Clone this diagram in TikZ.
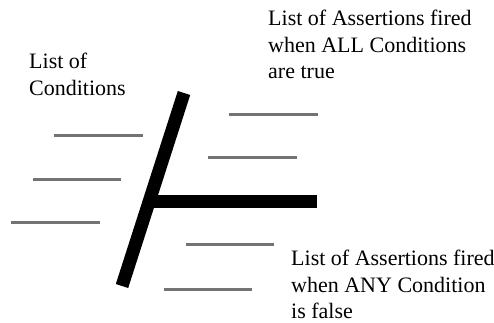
\documentclass[tikz,border=0pt]{standalone}
\usepackage{fontspec}
\setmainfont{Liberation Serif}
\usetikzlibrary{positioning}

\begin{document}
\begin{tikzpicture}[
  x=1pt, y=-1pt,
  bar/.style={line width=13pt, black},
  slot/.style={line width=3pt, gray!90!black},
  label/.style={anchor=north west, inner sep=0pt, align=left,
    font=\fontsize{22}{26.5}\selectfont}
]
\useasboundingbox (0,0) rectangle (494,322);

\coordinate (top) at (184,93);
\coordinate (bot) at (122,286);
\coordinate (fork) at (149,201);
\coordinate (tip) at (317,201);

\draw[bar] (top) -- (bot);
\draw[bar] (fork) -- (tip);

% conditions
\draw[slot] (54,135.5) -- (143,135.5);
\draw[slot] (33,179) -- (121,179);
\draw[slot] (11,222.5) -- (100,222.5);

% assertions (true)
\draw[slot] (229,114) -- (318,114);
\draw[slot] (208,157.5) -- (297,157.5);

% assertions (false)
\draw[slot] (186,244) -- (274,244);
\draw[slot] (164,289) -- (252,289);

\node[label] (cond) at (29,53) {List of\\Conditions};
\node[label] (alltrue) at (268,10) {List of Assertions fired\\when ALL Conditions\\are true};
\node[label] (anyfalse) at (291,250) {List of Assertions fired\\when ANY Condition\\is false};

\end{tikzpicture}
\end{document}
